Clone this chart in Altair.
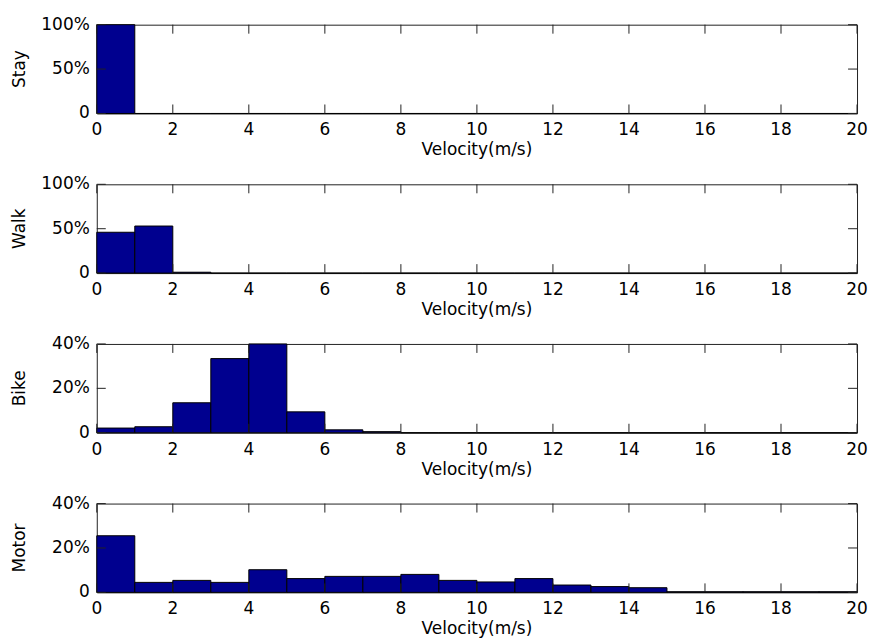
import altair as alt
import pandas as pd

# ---- data (percent of samples per 1 m/s velocity bin, 0..20 m/s) ----
bin_starts = [0, 1, 2, 3, 4, 5, 6, 7, 8, 9, 10, 11, 12, 13, 14, 15, 16, 17, 18, 19]
bin_ends = [1, 2, 3, 4, 5, 6, 7, 8, 9, 10, 11, 12, 13, 14, 15, 16, 17, 18, 19, 20]

stay = [100, 0, 0, 0, 0, 0, 0, 0, 0, 0, 0, 0, 0, 0, 0, 0, 0, 0, 0, 0]
walk = [46, 53, 1, 0, 0, 0, 0, 0, 0, 0, 0, 0, 0, 0, 0, 0, 0, 0, 0, 0]
bike = [2.1, 2.7, 13.5, 33.4, 40, 9.4, 1.3, 0.5, 0, 0, 0, 0, 0, 0, 0, 0, 0, 0, 0, 0]
motor = [25.5, 4.5, 5.4, 4.5, 10.2, 6.2, 7.2, 7.2, 8.1, 5.4, 4.7, 6.2, 3.3, 2.6, 2.1,
         0.3, 0.3, 0.3, 0.3, 0.3]

panel_names = ["Stay", "Walk", "Bike", "Motor"]
panel_values = [stay, walk, bike, motor]
panel_ymax = [100, 100, 40, 40]
panel_yticks = [[0, 50, 100], [0, 50, 100], [0, 20, 40], [0, 20, 40]]
panel_ylabels = [["0", "50%", "100%"], ["0", "50%", "100%"],
                 ["0", "20%", "40%"], ["0", "20%", "40%"]]
x_ticks = [0, 2, 4, 6, 8, 10, 12, 14, 16, 18, 20]
x_labels = ["0", "2", "4", "6", "8", "10", "12", "14", "16", "18", "20"]
x_title = "Velocity(m/s)"

W, H = 762, 89
TL = 9  # tick length (drawn inward)
FILL = "#00008F"
LINE = "#222222"
FONT = "DejaVu Sans"
FS = 17


def panel(name, values, ymax, yticks, ylabels):
    df = pd.DataFrame({"x0": bin_starts, "x1": bin_ends, "v": values})
    xt = pd.DataFrame({"x0": x_ticks, "lab": x_labels})
    yt = pd.DataFrame({"v": yticks, "lab": ylabels})
    xs = alt.Scale(domain=[0, 20], nice=False, zero=False)
    ys = alt.Scale(domain=[0, ymax], nice=False)

    bars = alt.Chart(df).mark_rect(fill=FILL, stroke="black", strokeWidth=1).encode(
        x=alt.X("x0:Q", scale=xs, axis=None),
        x2="x1:Q",
        y=alt.Y("v:Q", scale=ys, axis=None),
        y2=alt.datum(0),
    )
    # inward tick marks on all four sides
    xb = alt.Chart(xt).mark_rule(color=LINE, strokeWidth=1).encode(
        x=alt.X("x0:Q", axis=None), y=alt.value(H), y2=alt.value(H - TL))
    xtp = alt.Chart(xt).mark_rule(color=LINE, strokeWidth=1).encode(
        x=alt.X("x0:Q", axis=None), y=alt.value(0), y2=alt.value(TL))
    yl = alt.Chart(yt).mark_rule(color=LINE, strokeWidth=1).encode(
        y=alt.Y("v:Q", axis=None), x=alt.value(0), x2=alt.value(TL))
    yr = alt.Chart(yt).mark_rule(color=LINE, strokeWidth=1).encode(
        y=alt.Y("v:Q", axis=None), x=alt.value(W), x2=alt.value(W - TL))
    # tick labels
    xlab = alt.Chart(xt).mark_text(font=FONT, fontSize=FS, color="black",
                                   baseline="middle", align="center").encode(
        x=alt.X("x0:Q", axis=None), y=alt.value(H + 17), text="lab:N")
    ylab = alt.Chart(yt).mark_text(font=FONT, fontSize=FS, color="black",
                                   baseline="middle", align="right").encode(
        y=alt.Y("v:Q", axis=None), x=alt.value(-7), text="lab:N")
    # axis titles
    xtit = alt.Chart(pd.DataFrame({"t": [x_title]})).mark_text(
        font=FONT, fontSize=FS, color="black", baseline="middle", align="center"
    ).encode(x=alt.value(W / 2), y=alt.value(H + 37), text="t:N")
    ytit = alt.Chart(pd.DataFrame({"t": [name]})).mark_text(
        font=FONT, fontSize=FS, color="black", baseline="middle", align="center",
        angle=270
    ).encode(x=alt.value(-77), y=alt.value(H / 2), text="t:N")
    return alt.layer(bars, xb, xtp, yl, yr, xlab, ylab, xtit, ytit).properties(
        width=W, height=H)


charts = [panel(n, v, m, t, l) for n, v, m, t, l in
          zip(panel_names, panel_values, panel_ymax, panel_yticks, panel_ylabels)]

chart = alt.vconcat(*charts, spacing=71, bounds="flush").properties(
    padding={"left": 10, "top": 14, "right": 0, "bottom": 0},
    background="white",
).configure_view(stroke=LINE, strokeWidth=1)

chart.save("out.html", embed_options={"renderer": "svg", "actions": False})
